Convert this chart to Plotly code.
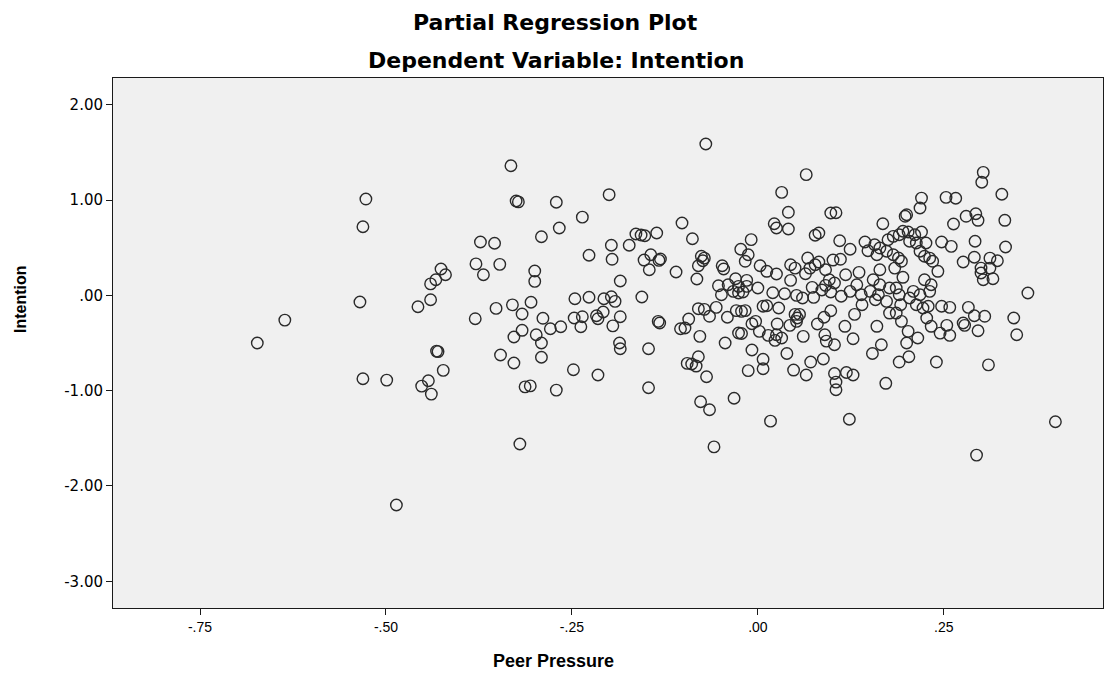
import plotly.graph_objects as go

# Partial regression residuals
peer_pressure = [
    -.527, -.531, -.535, -.636, -.673, -.531, -.486,
    -.499, -.432, -.430, -.423, -.443, -.452, -.439, -.346, -.328, -.291, -.248, -.215,
    -.313, -.306, -.271, -.320, -.186, -.185,
    -.332, -.325, -.322, -.271, -.200, -.236, -.267, -.291, -.373, -.354, -.379, -.347,
    -.369, -.426, -.420, -.433, -.440, -.440, -.457, -.300, -.300, -.227, -.197, -.196,
    -.185, -.305, -.330, -.352, -.317, -.380, -.289, -.246, -.227, -.207, -.197, -.192,
    -.247, -.236, -.217, -.208, -.215, -.238, -.265, -.279, -.195, -.185, -.317, -.328,
    -.298, -.291,
    -.070, .065, .032, .041, .098, .105, .022, .025, .041, .077, .082, .110, .124, .144,
    -.102, -.088, -.136, -.164, -.157, -.152, -.173, -.153, -.144, -.133, -.131, -.146,
    -.110, -.082, -.156, -.076, -.072, -.074, -.080, -.009, -.023, -.013, -.017, -.048,
    -.046, .003, .012, .025, .044, .050, .067, .070, .077, .082, .091, .101, .111, .096,
    .103, .118, .136, .044, .064, .073, .086, .091, -.030, -.015, -.040, -.026, -.015,
    .000, -.053, -.049, -.033, -.026, -.020, .020, .036, .052, .060, -.080, -.072, -.056,
    -.065, -.093, -.104, -.098, -.132, -.134, -.078, -.041, -.029, -.022, -.017, .007,
    .012, .028, .050, .053, .056, -.003, -.008, -.026, -.022, .002, .014, .025, .026,
    .043, .052, .032, .023, .061, .080, .089, .098, .075, .098, .112, .124, .133, .139,
    .140, .130, .117, .128, .103, .090, -.044, -.147,
    -.147, -.095, -.089, -.080, -.083, -.069, -.077, -.065, -.059, -.032, -.008, -.013,
    .007, .007, .039, .017, .048, .065, .071, .088, .103, .105, .105, .119, .128, .123,
    .092,
    .303, .301, .328, .220, .218, .253, .266, .198, .200, .168, .263, .280, .293, .296,
    .332, .292, .333, .247, .260, .276, .291, .312, .322, .300, .300, .303, .312, .316,
    .363, .344, .348, .283, .291, .305, .276, .278, .296, .247, .258, .254, .258, .245,
    .220, .195, .202, .190, .182, .175, .211, .204, .213, .226, .218, .224, .231, .235,
    .242, .157, .148, .164, .160, .173, .182, .189, .193, .184, .164, .195, .224, .233,
    .231, .218, .209, .204, .213, .222, .229, .155, .164, .177, .151, .158, .162, .173,
    .186, .190, .192, .177, .186, .193, .202, .215, .200, .166, .160, .227, .233,
    .154, .190, .203, .240, .310, .172, .400, .294,
]
intention = [
    1.010, .720, -.070, -.260, -.500, -.875, -2.200,
    -.889, -.585, -.590, -.787, -.896, -.952, -1.036, -.626, -.710, -.650, -.780, -.836,
    -.960, -.950, -.994, -1.560, -.500, -.560,
    1.360, .990, .980, .976, 1.056, .820, .706, .615, .560, .546, .330, .325,
    .216, .276, .216, .164, .120, -.046, -.120, .255, .147, .420, .525, .378,
    .150, -.073, -.100, -.137, -.196, -.245, -.241, -.036, -.020, -.036, -.015, -.063,
    -.238, -.224, -.214, -.175, -.245, -.330, -.330, -.350, -.320, -.224, -.367, -.437,
    -.413, -.500,
    1.588, 1.266, 1.080, .871, .864, .867, .751, .706, .696, .630, .654, .573, .483, .560,
    .759, .594, .654, .643, .633, .625, .525, .370, .426, .367, .381, .269,
    .245, .171, -.018, .410, .390, .363, .310, .584, .483, .426, .357, .310,
    .276, .310, .252, .224, .321, .286, .391, .286, .321, .349, .269, .370, .378, .164,
    .129, .216, .241, .157, .227, .084, .056, .105, .174, .157, .111, .094, .094,
    .077, .100, .006, .042, .024, .035, .027, .017, .000, -.028, -.140, -.147, -.126,
    -.220, -.249, -.350, -.343, -.290, -.273, -.430, -.230, -.160, -.168, -.160, -.115,
    -.109, -.133, -.200, -.238, -.200, -.273, -.298, -.395, -.400, -.378, -.420, -.413, -.300,
    -.315, -.273, -.448, -.472, -.430, -.300, -.230, -.162, -.021, .035, -.010, .042, .111, .006,
    -.099, -.200, -.325, -.455, -.518, -.413, -.500, -.560,
    -.970, -.714, -.720, -.644, -.742, -.854, -1.116, -1.200, -1.590, -1.080, -.574, -.790,
    -.670, -.770, -.610, -1.320, -.784, -.836, -.700, -.668, -.820, -.910, -.990, -.810, -.836, -1.300,
    -.480,
    1.290, 1.186, 1.060, 1.020, .916, 1.028, 1.018, .829, .846, .751, .748, .829, .856, .787,
    .787, .567, .507, .560, .514, .350, .400, .390, .363, .286, .234, .164, .286, .174,
    .024, -.238, -.413, -.126, -.214, -.220, -.290, -.315, -.371, -.115, -.126, -.315, -.420, -.396,
    .664, .672, .664, .636, .619, .583, .636, .567, .549, .549, .462, .410, .390, .357,
    .252, .531, .468, .496, .426, .462, .426, .391, .357, .286, .269, .189, .164, .111,
    .042, .006, .042, -.028, -.099, -.133, -.115, .164, .111, .077, .042, -.046, .006, -.063,
    .077, .006, -.099, -.186, -.186, -.273, -.378, -.448, -.500, -.518, -.325, -.238, -.325,
    -.610, -.700, -.644, -.700, -.730, -.923, -1.326, -1.676,
]

x_ticks = [-.75, -.50, -.25, .00, .25]
x_tick_labels = ["-.75", "-.50", "-.25", ".00", ".25"]
y_ticks = [2, 1, 0, -1, -2, -3]
y_tick_labels = ["2.00", "1.00", ".00", "-1.00", "-2.00", "-3.00"]

fig = go.Figure(go.Scatter(
    x=peer_pressure, y=intention, mode="markers",
    marker=dict(symbol="circle-open", size=11.5, color="#2a2a2a",
                line=dict(width=1.4, color="#2a2a2a")),
    hoverinfo="skip",
))

fig.update_layout(
    width=1109, height=674,
    margin=dict(l=113, r=6, t=78, b=66),
    paper_bgcolor="white", plot_bgcolor="#f0f0f0",
    showlegend=False,
    font=dict(family="Liberation Sans, Arial, sans-serif", color="black"),
    annotations=[
        dict(text="<b>Partial Regression Plot</b>", xref="paper", yref="paper",
             x=0.447, y=(608 - 22) / 530, xanchor="center", yanchor="middle",
             showarrow=False, font=dict(family="DejaVu Sans", size=22)),
        dict(text="<b>Dependent Variable: Intention</b>", xref="paper", yref="paper",
             x=0.447, y=(608 - 61) / 530, xanchor="center", yanchor="middle",
             showarrow=False, font=dict(family="DejaVu Sans", size=22)),
        dict(text="<b>Peer Pressure</b>", xref="paper", yref="paper",
             x=0.445, y=(608 - 661) / 530, xanchor="center", yanchor="middle",
             showarrow=False, font=dict(family="Liberation Sans", size=18)),
        dict(text="<b>Intention</b>", xref="paper", yref="paper",
             x=(20 - 113) / 990, y=(608 - 299) / 530, xanchor="center", yanchor="middle",
             textangle=-90, showarrow=False, font=dict(family="Liberation Sans", size=16)),
    ],
)
fig.update_xaxes(range=[-0.867, 0.464], tickvals=x_ticks, ticktext=x_tick_labels,
                 showgrid=False, zeroline=False, showline=True, mirror=True,
                 linecolor="#1a1a1a", linewidth=1, ticks="outside", ticklen=6,
                 tickcolor="#1a1a1a", tickfont=dict(size=14, family="Liberation Sans"))
fig.update_yaxes(range=[-3.28, 2.28], tickvals=y_ticks, ticktext=y_tick_labels,
                 showgrid=False, zeroline=False, showline=True, mirror=True,
                 linecolor="#1a1a1a", linewidth=1, ticks="outside", ticklen=6,
                 tickcolor="#1a1a1a", tickfont=dict(size=15, family="DejaVu Sans"))

fig.write_html("out.html")
